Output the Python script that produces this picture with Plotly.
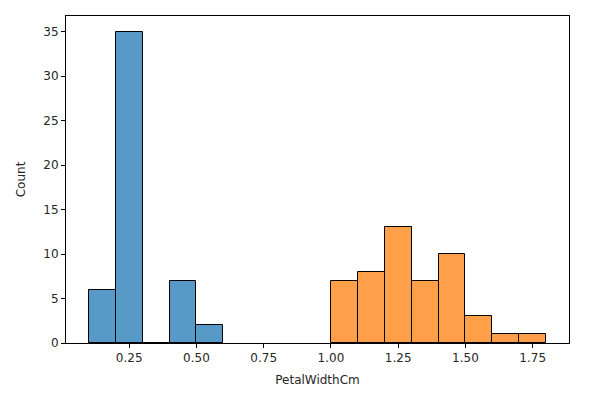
import plotly.graph_objects as go

# Data
setosa_bin_left = [0.1, 0.2, 0.3, 0.4, 0.5]
setosa_counts = [6, 35, 0, 7, 2]
versicolor_bin_left = [1.0, 1.1, 1.2, 1.3, 1.4, 1.5, 1.6, 1.7]
versicolor_counts = [7, 8, 13, 7, 10, 3, 1, 1]
bin_width = 0.1
x_ticks = [0.25, 0.5, 0.75, 1.0, 1.25, 1.5, 1.75]
x_tick_labels = ["0.25", "0.50", "0.75", "1.00", "1.25", "1.50", "1.75"]
y_ticks = [0, 5, 10, 15, 20, 25, 30, 35]

fig = go.Figure()
fig.add_trace(go.Bar(
    x=setosa_bin_left, y=setosa_counts, width=[bin_width] * len(setosa_counts),
    offset=0, marker=dict(color="rgba(31,119,180,0.75)", line=dict(color="black", width=1)),
    name="Iris-setosa", showlegend=False,
))
fig.add_trace(go.Bar(
    x=versicolor_bin_left, y=versicolor_counts, width=[bin_width] * len(versicolor_counts),
    offset=0, marker=dict(color="rgba(255,127,14,0.75)", line=dict(color="black", width=1)),
    name="Iris-versicolor", showlegend=False,
))

xmin = min(setosa_bin_left)
xmax = max(versicolor_bin_left) + bin_width
pad = 0.05 * (xmax - xmin)
ymax = max(setosa_counts + versicolor_counts) * 1.05

font = dict(family="DejaVu Sans", size=12, color="#262626")
axis_common = dict(
    showline=True, linecolor="black", linewidth=1, mirror=True,
    ticks="outside", ticklen=4, tickcolor="black", tickwidth=1,
    showgrid=False, zeroline=False,
    tickfont=font,
)

fig.update_layout(
    width=586, height=388,
    margin=dict(l=58, r=25, t=8, b=53),
    plot_bgcolor="white", paper_bgcolor="white",
    barmode="overlay", bargap=0,
    xaxis=dict(range=[xmin - pad, xmax + pad], tickvals=x_ticks, ticktext=x_tick_labels,
               title=dict(text="PetalWidthCm", standoff=11, font=font),
               **axis_common),
    yaxis=dict(range=[0, ymax], tickvals=y_ticks,
               title=dict(text="Count", standoff=15, font=font),
               **axis_common),
)

fig.write_html("out.html")
